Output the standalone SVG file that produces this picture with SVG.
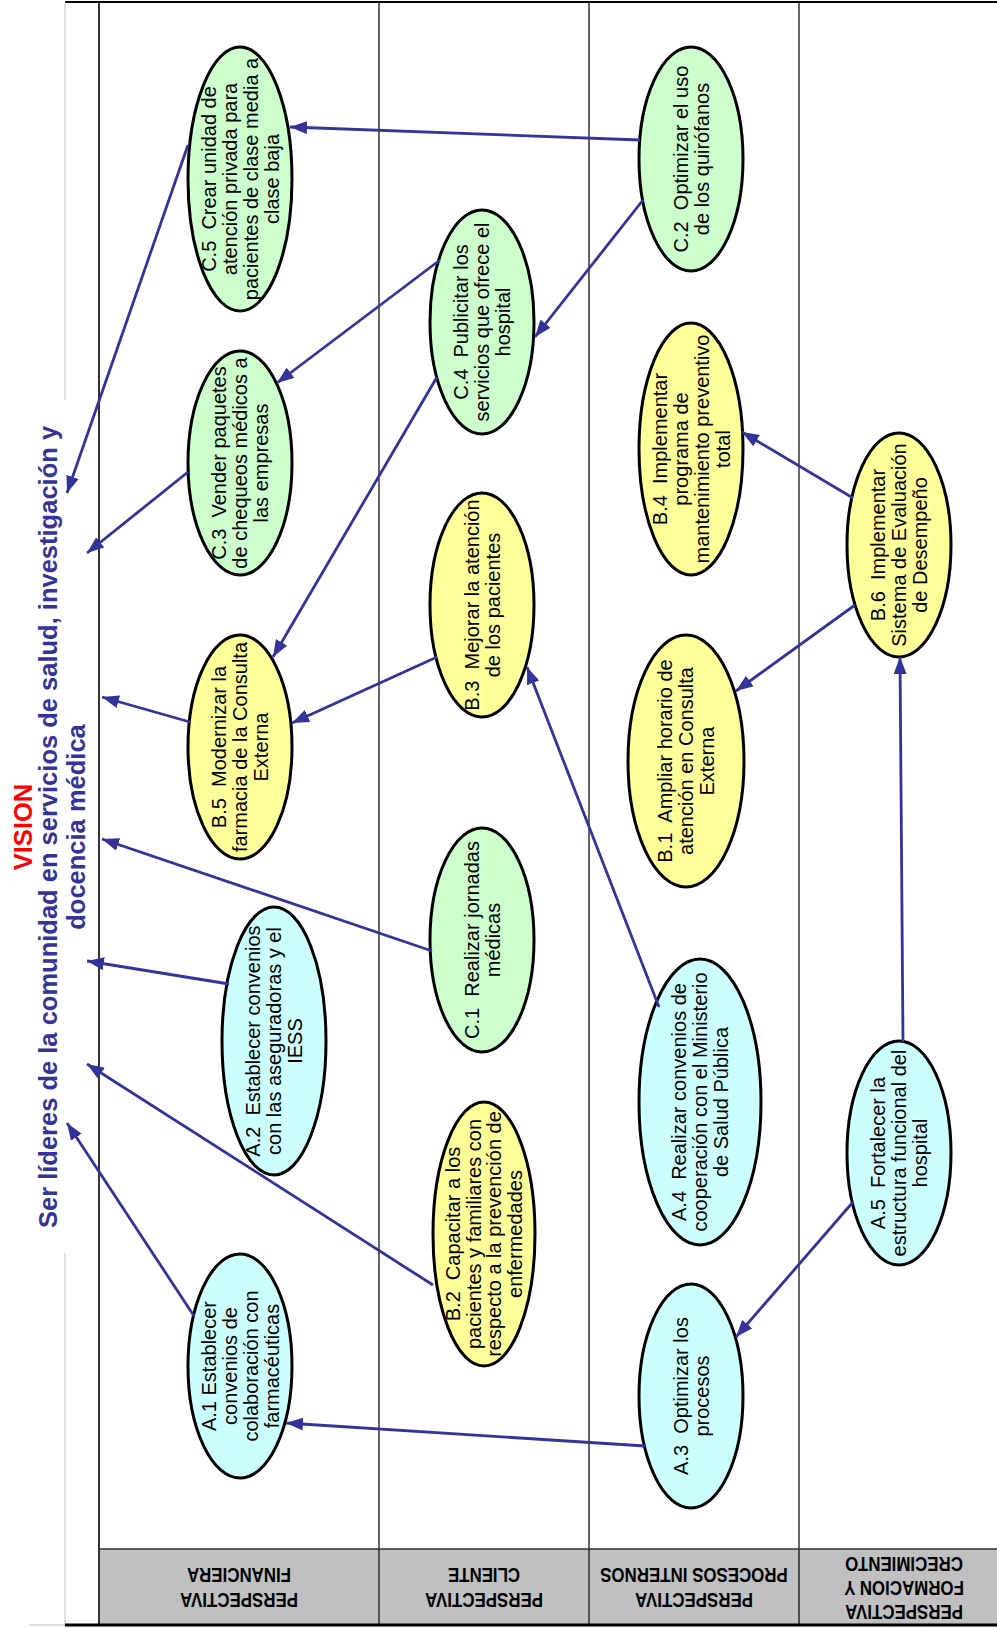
<svg xmlns="http://www.w3.org/2000/svg" width="997" height="1628" viewBox="0 0 997 1628">
<style>
.lane{stroke:#333;stroke-width:1.5;fill:none}
.ell{stroke:#000;stroke-width:3}
.g{fill:#CCFFCC}
.y{fill:#FFFF99}
.c{fill:#CCFFFF}
.t{font-family:"Liberation Sans",Arial,sans-serif;font-size:20px;fill:#000;text-anchor:middle}
.h{font-family:"Liberation Sans",Arial,sans-serif;font-size:20px;font-weight:bold;fill:#000;text-anchor:middle}
.v{font-family:"Liberation Sans",Arial,sans-serif;font-size:25.5px;font-weight:bold;text-anchor:middle}
.con line{stroke:#333399;stroke-width:2.8;marker-end:url(#ah)}
</style>
<defs>
<marker id="ah" markerUnits="userSpaceOnUse" markerWidth="17" markerHeight="13" refX="17" refY="6.5" orient="auto">
<path d="M0,0 L17,6.5 L0,13 z" fill="#333399"/>
</marker>
</defs>
<rect x="0" y="0" width="997" height="1628" fill="#fff"/>
<g id="frame">
<rect x="99" y="1549" width="898" height="75" fill="#C0C0C0"/>
<line x1="65" y1="2" x2="997" y2="2" stroke="#000" stroke-width="2"/>
<line x1="65" y1="2" x2="65" y2="400" stroke="#C0C0C0" stroke-width="1"/>
<line x1="65" y1="1253" x2="65" y2="1625" stroke="#C0C0C0" stroke-width="1"/>
<line x1="29" y1="1625" x2="65" y2="1625" stroke="#C0C0C0" stroke-width="1"/>
<line class="lane" x1="99" y1="2" x2="99" y2="1625" style="stroke-width:2"/>
<line class="lane" x1="379" y1="2" x2="379" y2="1625"/>
<line class="lane" x1="589" y1="2" x2="589" y2="1625"/>
<line class="lane" x1="799" y1="2" x2="799" y2="1625" style="stroke:#000;stroke-width:1.2"/>
<line class="lane" x1="99" y1="1549" x2="997" y2="1549"/>
<line x1="65" y1="1625" x2="997" y2="1625" stroke="#000" stroke-width="3"/>
</g>
<g id="headers">
<g transform="translate(239 1588) rotate(180) scale(0.845 1)"><text class="h"><tspan x="0" y="-5">PERSPECTIVA</tspan><tspan x="0" y="20">FINANCIERA</tspan></text></g>
<g transform="translate(484 1588) rotate(180) scale(0.845 1)"><text class="h"><tspan x="0" y="-5">PERSPECTIVA</tspan><tspan x="0" y="20">CLIENTE</tspan></text></g>
<g transform="translate(694 1588) rotate(180) scale(0.845 1)"><text class="h"><tspan x="0" y="-5">PERSPECTIVA</tspan><tspan x="0" y="20">PROCESOS INTERNOS</tspan></text></g>
<g transform="translate(904 1589) rotate(180) scale(0.845 1)"><text class="h"><tspan x="0" y="-16">PERSPECTIVA</tspan><tspan x="0" y="8">FORMACION Y</tspan><tspan x="0" y="32">CRECIMIENTO</tspan></text></g>
</g>
<g id="vision">
<text class="v" fill="#FF0000" transform="translate(32 827) rotate(-90)">VISION</text>
<text class="v" fill="#333399" transform="translate(57 827) rotate(-90)">Ser líderes de la comunidad en servicios de salud, investigación y</text>
<text class="v" fill="#333399" transform="translate(85 827) rotate(-90)">docencia médica</text>
</g>
<g id="C5"><ellipse class="ell g" cx="240" cy="179" rx="52" ry="132"/><text class="t" xml:space="preserve" transform="rotate(-90 240 179)"><tspan x="240" y="154.5">C.5  Crear unidad de</tspan><tspan x="240" y="175.5">atención privada para</tspan><tspan x="240" y="196.5">pacientes de clase media a</tspan><tspan x="240" y="217.5">clase baja</tspan></text></g>
<g id="C3"><ellipse class="ell g" cx="240" cy="463" rx="52" ry="112"/><text class="t" xml:space="preserve" transform="rotate(-90 240 463)"><tspan x="240" y="449">C.3  Vender paquetes</tspan><tspan x="240" y="470">de chequeos médicos a</tspan><tspan x="240" y="491">las empresas</tspan></text></g>
<g id="B5"><ellipse class="ell y" cx="240" cy="747" rx="52" ry="112"/><text class="t" xml:space="preserve" transform="rotate(-90 240 747)"><tspan x="240" y="733">B.5  Modernizar la</tspan><tspan x="240" y="754">farmacia de la Consulta</tspan><tspan x="240" y="775">Externa</tspan></text></g>
<g id="A2"><ellipse class="ell c" cx="274" cy="1041" rx="52" ry="134"/><text class="t" xml:space="preserve" transform="rotate(-90 274 1041)"><tspan x="274" y="1027">A.2  Establecer convenios</tspan><tspan x="274" y="1048">con las aseguradoras y el</tspan><tspan x="274" y="1069">IESS</tspan></text></g>
<g id="A1"><ellipse class="ell c" cx="240" cy="1366" rx="52" ry="112"/><text class="t" xml:space="preserve" transform="rotate(-90 240 1366)"><tspan x="240" y="1341.5">A.1 Establecer</tspan><tspan x="240" y="1362.5">convenios de</tspan><tspan x="240" y="1383.5">colaboración con</tspan><tspan x="240" y="1404.5">farmacéuticas</tspan></text></g>
<g id="C4"><ellipse class="ell g" cx="482" cy="322" rx="52" ry="112"/><text class="t" xml:space="preserve" transform="rotate(-90 482 322)"><tspan x="482" y="308">C.4  Publicitar los</tspan><tspan x="482" y="329">servicios que ofrece el</tspan><tspan x="482" y="350">hospital</tspan></text></g>
<g id="B3"><ellipse class="ell y" cx="482" cy="605" rx="52" ry="112"/><text class="t" xml:space="preserve" transform="rotate(-90 482 605)"><tspan x="482" y="601.5">B.3  Mejorar la atención</tspan><tspan x="482" y="622.5">de los pacientes</tspan></text></g>
<g id="C1"><ellipse class="ell g" cx="482" cy="940" rx="52" ry="112"/><text class="t" xml:space="preserve" transform="rotate(-90 482 940)"><tspan x="482" y="936.5">C.1  Realizar jornadas</tspan><tspan x="482" y="957.5">médicas</tspan></text></g>
<g id="B2"><ellipse class="ell y" cx="484" cy="1234" rx="51" ry="132"/><text class="t" xml:space="preserve" transform="rotate(-90 484 1234)"><tspan x="484" y="1210">B.2  Capacitar a los</tspan><tspan x="484" y="1230.5">pacientes y familiares con</tspan><tspan x="484" y="1251">respecto a la prevención de</tspan><tspan x="484" y="1271.5">enfermedades</tspan></text></g>
<g id="C2"><ellipse class="ell g" cx="691" cy="159" rx="52" ry="112"/><text class="t" xml:space="preserve" transform="rotate(-90 691 159)"><tspan x="691" y="155.5">C.2  Optimizar el uso</tspan><tspan x="691" y="176.5">de los quirófanos</tspan></text></g>
<g id="B4"><ellipse class="ell y" cx="691" cy="449" rx="52" ry="126"/><text class="t" xml:space="preserve" transform="rotate(-90 691 449)"><tspan x="691" y="424.5">B.4  Implementar</tspan><tspan x="691" y="445.5">programa de</tspan><tspan x="691" y="466.5">mantenimiento preventivo</tspan><tspan x="691" y="487.5">total</tspan></text></g>
<g id="B1"><ellipse class="ell y" cx="686" cy="761" rx="58" ry="126"/><text class="t" xml:space="preserve" transform="rotate(-90 686 761)"><tspan x="686" y="747">B.1  Ampliar horario de</tspan><tspan x="686" y="768">atención en Consulta</tspan><tspan x="686" y="789">Externa</tspan></text></g>
<g id="A4"><ellipse class="ell c" cx="700" cy="1102" rx="61" ry="143"/><text class="t" xml:space="preserve" transform="rotate(-90 700 1102)"><tspan x="700" y="1088">A.4  Realizar convenios de</tspan><tspan x="700" y="1109">cooperación con el Ministerio</tspan><tspan x="700" y="1130">de Salud Pública</tspan></text></g>
<g id="A3"><ellipse class="ell c" cx="691" cy="1396" rx="52" ry="112"/><text class="t" xml:space="preserve" transform="rotate(-90 691 1396)"><tspan x="691" y="1392.5">A.3  Optimizar los</tspan><tspan x="691" y="1413.5">procesos</tspan></text></g>
<g id="B6"><ellipse class="ell y" cx="899" cy="545" rx="52" ry="112"/><text class="t" xml:space="preserve" transform="rotate(-90 899 545)"><tspan x="899" y="531">B.6  Implementar</tspan><tspan x="899" y="552">Sistema de Evaluación</tspan><tspan x="899" y="573">de Desempeño</tspan></text></g>
<g id="A5"><ellipse class="ell c" cx="899" cy="1153" rx="52" ry="112"/><text class="t" xml:space="preserve" transform="rotate(-90 899 1153)"><tspan x="899" y="1139">A.5  Fortalecer la</tspan><tspan x="899" y="1160">estructura funcional del</tspan><tspan x="899" y="1181">hospital</tspan></text></g>
<g id="connectors" class="con">
<line x1="640" y1="140" x2="290" y2="127"/>
<line x1="643" y1="200" x2="535" y2="337"/>
<line x1="440" y1="260" x2="277" y2="383"/>
<line x1="437" y1="377" x2="273" y2="657"/>
<line x1="188" y1="145" x2="67" y2="493"/>
<line x1="188" y1="472" x2="87" y2="553"/>
<line x1="437" y1="657" x2="292" y2="723"/>
<line x1="190" y1="722" x2="102" y2="697"/>
<line x1="432" y1="951" x2="102" y2="839"/>
<line x1="229" y1="984" x2="87" y2="961"/>
<line x1="433" y1="1285" x2="87" y2="1064"/>
<line x1="194" y1="1316" x2="67" y2="1123"/>
<line x1="659" y1="1007" x2="527" y2="667"/>
<line x1="853" y1="498" x2="742" y2="432"/>
<line x1="855" y1="605" x2="736" y2="691"/>
<line x1="903" y1="1042" x2="900" y2="657"/>
<line x1="853" y1="1202" x2="736" y2="1337"/>
<line x1="645" y1="1446" x2="286" y2="1423"/>
</g>
</svg>
